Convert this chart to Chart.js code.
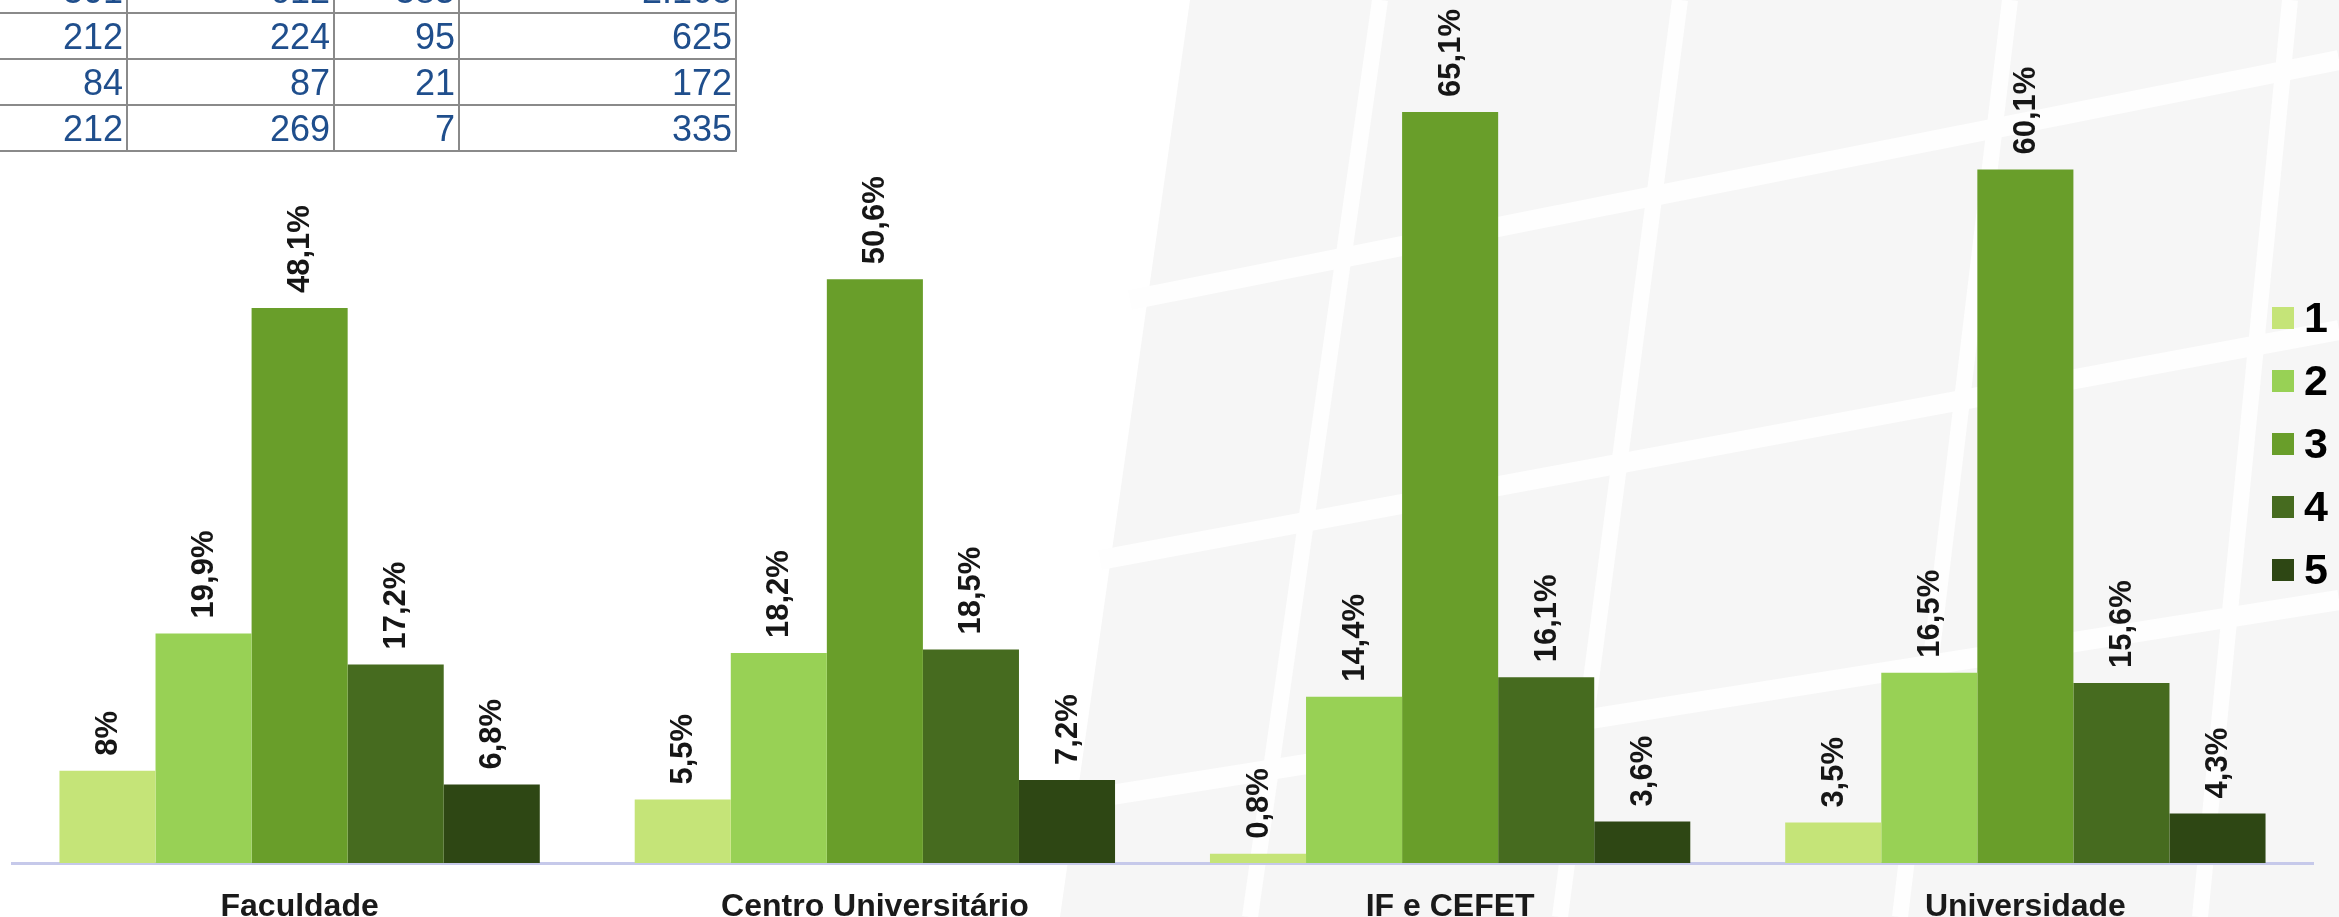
<!DOCTYPE html>
<html>
<head>
<meta charset="utf-8">
<script src="https://cdn.jsdelivr.net/npm/chart.js@4.4.1/dist/chart.umd.min.js"></script>
<style>
  html, body { margin: 0; padding: 0; background: #fff; overflow: hidden; }
  #wrap { position: relative; width: 2339px; height: 917px; }
  #chart { position: absolute; left: 0; top: 0; }
  #grid { position: absolute; left: -80px; top: -34px; border-collapse: collapse; }
  #grid td {
    border: 2px solid #8a8a8a; height: 44px; padding: 0 3px 0 0;
    text-align: right; vertical-align: bottom; line-height: 35px;
    font: 36px "Liberation Sans", Arial, sans-serif; color: #1f4e8c;
    background: #fff;
  }
  #legend { position: absolute; left: 2272px; top: 286px; }
  .item { height: 63px; display: flex; align-items: center; }
  .box { width: 22px; height: 22px; margin-right: 10px; }
  .lbl { font: bold 43px "Liberation Sans", Arial, sans-serif; color: #000; line-height: 43px; }
</style>
</head>
<body>
<div id="wrap">
  <canvas id="chart" width="2339" height="917"></canvas>
  <table id="grid"></table>
  <div id="legend"></div>
</div>
<script>
// categories and series
const categories = ['Faculdade', 'Centro Universitário', 'IF e CEFET', 'Universidade'];
const seriesNames = ['1', '2', '3', '4', '5'];
const level1 = [8, 5.5, 0.8, 3.5];
const level2 = [19.9, 18.2, 14.4, 16.5];
const level3 = [48.1, 50.6, 65.1, 60.1];
const level4 = [17.2, 18.5, 16.1, 15.6];
const level5 = [6.8, 7.2, 3.6, 4.3];
const seriesColors = ['#c5e478', '#98d155', '#699e2a', '#466b1f', '#2e4714'];

// table fragment in the top-left corner
const tableRow0 = ['301', '612', '385', '2.168'];
const tableRow1 = ['212', '224', '95', '625'];
const tableRow2 = ['84', '87', '21', '172'];
const tableRow3 = ['212', '269', '7', '335'];
const colWidths = [206, 207, 125, 277];

const FONT = '"Liberation Sans", Arial, sans-serif';

function buildTable() {
    const table = document.getElementById('grid');
    [tableRow0, tableRow1, tableRow2, tableRow3].forEach(row => {
        const tr = document.createElement('tr');
        row.forEach((v, i) => {
            const td = document.createElement('td');
            td.style.width = (colWidths[i] - 5) + 'px';
            td.textContent = v;
            tr.appendChild(td);
        });
        table.appendChild(tr);
    });
}

function buildLegend() {
    const legend = document.getElementById('legend');
    seriesNames.forEach((name, i) => {
        legend.innerHTML += `
            <div class="item">
                <div class="box" style="background:${seriesColors[i]}"></div>
                <div class="lbl">${name}</div>
            </div>`;
    });
}

function formatPct(v) {
    return String(v).replace('.', ',') + '%';
}

// faint watermark behind the bars
const watermark = {
    id: 'watermark',
    beforeDraw(chart) {
        const ctx = chart.ctx;
        ctx.save();
        ctx.fillStyle = '#fff';
        ctx.fillRect(0, 0, chart.width, chart.height);
        ctx.fillStyle = '#f6f6f6';
        ctx.beginPath();
        ctx.moveTo(1060, 917); ctx.lineTo(1190, 0); ctx.lineTo(2339, 0); ctx.lineTo(2339, 917);
        ctx.closePath();
        ctx.fill();
        ctx.strokeStyle = '#fefefe';
        ctx.lineWidth = 16;
        // slanted "strokes" of the logo
        [[1250, 917, 1380, 0], [1560, 917, 1680, 0], [1900, 917, 2010, 0], [2200, 917, 2290, 0]].forEach(s => {
            ctx.beginPath(); ctx.moveTo(s[0], s[1]); ctx.lineTo(s[2], s[3]); ctx.stroke();
        });
        ctx.lineWidth = 20;
        [[1100, 560, 2339, 330], [1130, 300, 2339, 60], [1080, 800, 2339, 600]].forEach(s => {
            ctx.beginPath(); ctx.moveTo(s[0], s[1]); ctx.lineTo(s[2], s[3]); ctx.stroke();
        });
        ctx.restore();
    }
};

// rotated value labels above each bar
const barLabels = {
    id: 'barLabels',
    afterDatasetsDraw(chart) {
        const ctx = chart.ctx;
        ctx.save();
        ctx.font = 'bold 31px ' + FONT;
        ctx.fillStyle = '#161616';
        ctx.textAlign = 'left';
        ctx.textBaseline = 'middle';
        chart.data.datasets.forEach((ds, di) => {
            chart.getDatasetMeta(di).data.forEach((bar, i) => {
                ctx.save();
                ctx.translate(bar.x, bar.y - 15);
                ctx.rotate(-Math.PI / 2);
                ctx.fillText(formatPct(ds.data[i]), 0, 1);
                ctx.restore();
            });
        });
        ctx.restore();
    }
};

function drawChart() {
    const levels = [level1, level2, level3, level4, level5];
    const ctx = document.getElementById('chart').getContext('2d');
    new Chart(ctx, {
        type: 'bar',
        data: {
            labels: categories,
            datasets: levels.map((vals, i) => ({
                label: seriesNames[i],
                data: vals,
                backgroundColor: seriesColors[i],
                borderWidth: 0,
                categoryPercentage: 0.835,
                barPercentage: 1.0
            }))
        },
        options: {
            responsive: false,
            animation: false,
            devicePixelRatio: 1,
            layout: { padding: { left: 12, right: 26, top: 0, bottom: -34 } },
            plugins: {
                legend: { display: false },
                tooltip: { enabled: false }
            },
            scales: {
                x: {
                    grid: { display: false, drawTicks: false },
                    border: { color: '#c6c9ea', width: 3 },
                    ticks: {
                        color: '#1a1a1a',
                        padding: 28,
                        font: { family: FONT, size: 32, weight: 'bold', lineHeight: 1 }
                    }
                },
                y: { display: false, min: 0, max: 74.8 }
            }
        },
        plugins: [watermark, barLabels]
    });
}

buildTable();
buildLegend();
drawChart();
</script>
</body>
</html>
